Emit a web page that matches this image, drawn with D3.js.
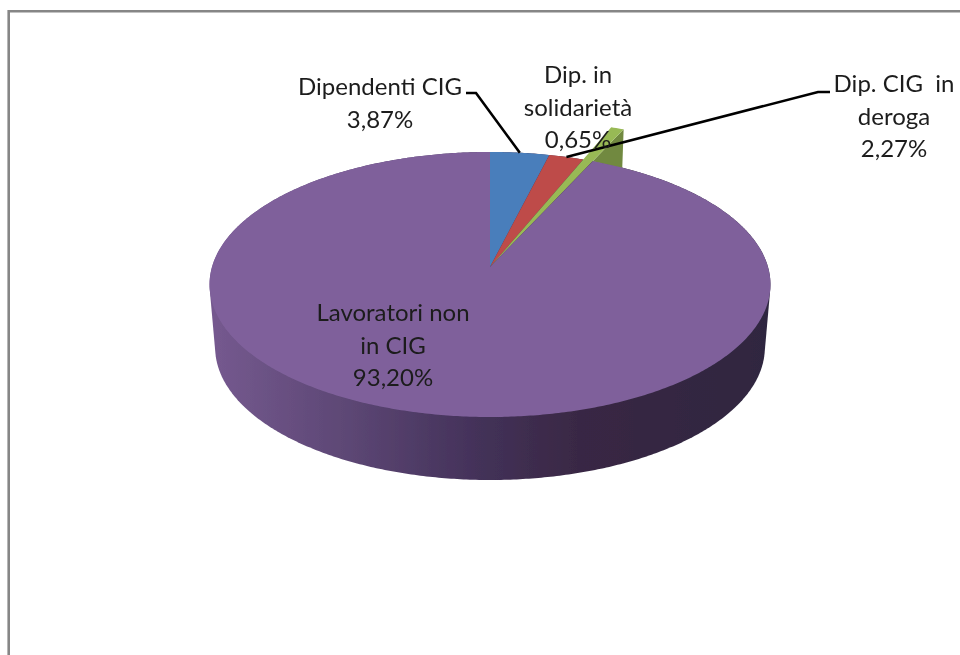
<!DOCTYPE html>
<html>
<head>
<meta charset="utf-8">
<script src="https://cdn.jsdelivr.net/npm/d3@7"></script>
<style>
html, body { margin: 0; padding: 0; background: #fff; overflow: hidden; }
svg { display: block; }
text { font-family: Lato, "Open Sans", sans-serif; font-size: 24px; fill: #1c1c1c; text-anchor: middle; }
</style>
</head>
<body>
<script>
var categories = ['Dipendenti CIG', 'Dip. CIG in deroga', 'Dip. in solidarietà', 'Lavoratori non in CIG'];
var values = [3.87, 2.27, 0.65, 93.20];
var valueLabels = ['3,87%', '2,27%', '0,65%', '93,20%'];
var colors = ['#4a7ebb', '#be4b48', '#98b954', '#7f619b'];

var w = 960, h = 655;

// perspective of the pie: apex sits above the middle of the ellipse
var cx = 490, cy = 267, a = 278, b = 130.2, k = 0.132;
var depth = 63, shrink = 0.98;

function project(r, angle) {
  var u = r * Math.sin(angle), v = r * Math.cos(angle), s = 1 + k * v;
  return [cx + a * u / s, cy - b * v / s];
}

var svg = d3.select('body').append('svg')
  .attr('width', w)
  .attr('height', h);

var defs = svg.append('defs');
var blur = defs.append('filter').attr('id', 'soft');
blur.append('feGaussianBlur').attr('stdDeviation', 0.45);

var grad = defs.append('linearGradient')
  .attr('id', 'wall')
  .attr('gradientUnits', 'userSpaceOnUse')
  .attr('x1', cx - a)
  .attr('x2', cx + a)
  .attr('y1', 0)
  .attr('y2', 0);
grad.selectAll('stop')
  .data([[0, '#75598f'], [0.23, '#5e4876'], [0.47, '#44325a'], [0.66, '#392844'], [1, '#2f2740']])
  .enter().append('stop')
  .attr('offset', function(d) { return d[0]; })
  .attr('stop-color', function(d) { return d[1]; });

// frame, only top and left show inside the crop
svg.append('path')
  .attr('d', 'M8.7,' + h + 'V11.3H' + w)
  .attr('fill', 'none')
  .attr('stroke', '#868686')
  .attr('stroke-width', 2.6);

var chart = svg.append('g').attr('filter', 'url(#soft)');

var slices = d3.pie().sort(null).value(function(d) { return d; })
  .startAngle(0).endAngle(2 * Math.PI)(values);

function rimPoints(start, end, r) {
  var n = Math.max(2, Math.ceil((end - start) / 0.01));
  return d3.range(n + 1).map(function(i) {
    return project(r, start + (end - start) * i / n);
  });
}

var line = d3.line();

function sector(d, r) {
  return line([[cx, cy]].concat(rimPoints(d.startAngle, d.endAngle, r))) + 'Z';
}

// side wall: hull of the top rim and the same rim lowered and a little narrower
var rim = rimPoints(0, 2 * Math.PI, 1);
var lowered = rim.map(function(p) {
  return [cx + (p[0] - cx) * shrink, p[1] + depth];
});
chart.append('path')
  .attr('d', line(d3.polygonHull(rim.concat(lowered))) + 'Z')
  .attr('fill', 'url(#wall)');

// green slice pokes out of the pie, this is how the original render looks
var green = slices[2], spike = 1.35;
var tip = project(spike, green.endAngle);
chart.append('path')
  .attr('d', line([project(1, green.endAngle), tip, [tip[0] - 1.5, tip[1] + 42], project(1, green.endAngle + 0.2)]) + 'Z')
  .attr('fill', '#71893f');

chart.selectAll('path.slice')
  .data(slices)
  .enter().append('path')
  .attr('class', 'slice')
  .attr('d', function(d, i) { return sector(d, i === 2 ? spike : 1); })
  .attr('fill', function(d, i) { return colors[i]; });

// leader lines
var leaders = [
  { slice: 0, path: [[476, 93], [466, 93]] },
  { slice: 1, path: [[818, 92], [830, 92]] }
];
leaders.forEach(function(l) {
  var d = slices[l.slice];
  var start = project(1, (d.startAngle + d.endAngle) / 2);
  chart.append('path')
    .attr('d', line([start].concat(l.path)))
    .attr('fill', 'none')
    .attr('stroke', '#000')
    .attr('stroke-width', 2.6);
});

// labels
var labelLines = [
  ['Dipendenti CIG', valueLabels[0]],
  ['Dip. CIG  in', 'deroga', valueLabels[1]],
  ['Dip. in', 'solidarietà', valueLabels[2]],
  ['Lavoratori non', 'in CIG', valueLabels[3]]
];
var labelPos = [[380, 95], [894, 92], [578, 83], [393, 321]];

labelLines.forEach(function(rows, i) {
  chart.append('text')
    .attr('xml:space', 'preserve')
    .selectAll('tspan')
    .data(rows)
    .enter().append('tspan')
    .attr('x', labelPos[i][0])
    .attr('y', function(d, j) { return labelPos[i][1] + j * 32.5; })
    .text(function(d) { return d; });
});
</script>
</body>
</html>
